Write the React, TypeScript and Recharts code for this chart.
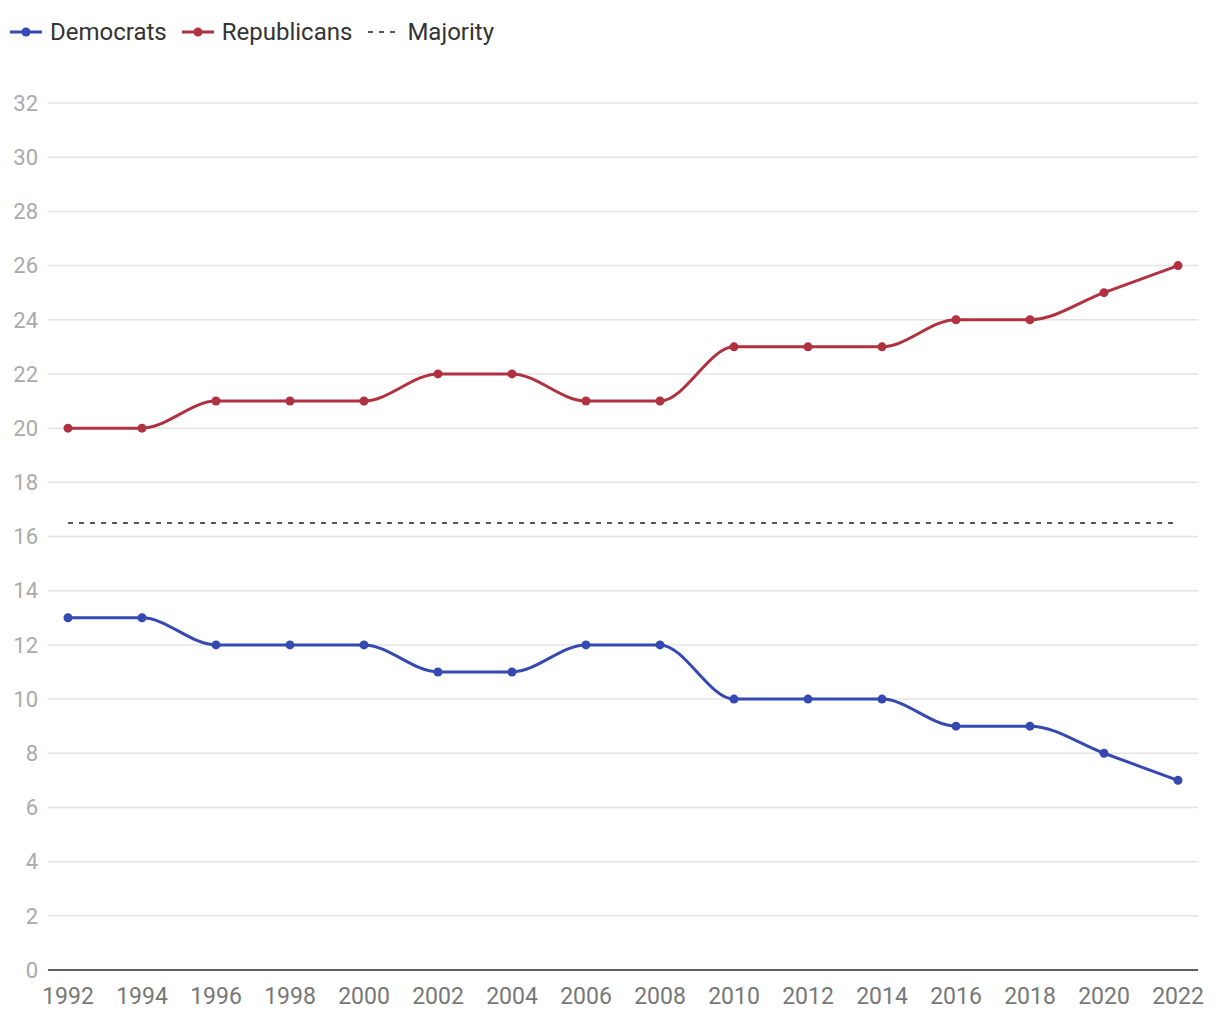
import React from 'react';
import { LineChart, Line, XAxis, YAxis, CartesianGrid } from 'recharts';

const YEARS = ['1992', '1994', '1996', '1998', '2000', '2002', '2004', '2006', '2008', '2010', '2012', '2014', '2016', '2018', '2020', '2022'];
const DEMOCRATS = [13, 13, 12, 12, 12, 11, 11, 12, 12, 10, 10, 10, 9, 9, 8, 7];
const REPUBLICANS = [20, 20, 21, 21, 21, 22, 22, 21, 21, 23, 23, 23, 24, 24, 25, 26];
const MAJORITY = 16.5;
const Y_TICKS = [0, 2, 4, 6, 8, 10, 12, 14, 16, 18, 20, 22, 24, 26, 28, 30, 32];

const BLUE = '#3549b1';
const RED = '#b0313f';
const FONT = 'Roboto, "Noto Sans", sans-serif';

const data = YEARS.map((year, i) => ({
  year,
  dem: DEMOCRATS[i],
  rep: REPUBLICANS[i],
  majority: MAJORITY,
}));

const LegendItem = ({ color, dashed, label }: { color: string; dashed?: boolean; label: string }) => (
  <div style={{ display: 'flex', alignItems: 'center', marginRight: 14 }}>
    <svg width={34} height={12} style={{ marginRight: 7 }}>
      {dashed ? (
        <line x1={2} y1={6} x2={32} y2={6} stroke="#222" strokeWidth={1.5} strokeDasharray="5 6" />
      ) : (
        <>
          <line x1={1} y1={6} x2={33} y2={6} stroke={color} strokeWidth={3} />
          <circle cx={17} cy={6} r={4.5} fill={color} />
        </>
      )}
    </svg>
    <span>{label}</span>
  </div>
);

export default function App() {
  return (
    <div style={{ position: 'absolute', left: 0, top: 0, width: 1220, height: 1020, background: '#fff', fontFamily: FONT }}>
      <div style={{ position: 'absolute', left: 9, top: 17, display: 'flex', fontSize: 24, color: '#333', lineHeight: '30px' }}>
        <LegendItem color={BLUE} label="Democrats" />
        <LegendItem color={RED} label="Republicans" />
        <LegendItem color="#222" dashed label="Majority" />
      </div>
      <LineChart width={1220} height={1020} data={data} margin={{ top: 103, right: 22, bottom: 20, left: 0 }}>
        <CartesianGrid vertical={false} stroke="#e4e4e4" strokeWidth={1.5} />
        <XAxis
          dataKey="year"
          padding={{ left: 20, right: 20 }}
          tickLine={false}
          axisLine={{ stroke: '#333', strokeWidth: 1.5 }}
          tickSize={0}
          tickMargin={18}
          height={30}
          interval={0}
          tick={{ fill: '#777', fontSize: 23, fontFamily: FONT }}
        />
        <YAxis
          width={48}
          domain={[0, 32]}
          ticks={Y_TICKS}
          interval={0}
          tickLine={false}
          axisLine={false}
          tickSize={0}
          tickMargin={10}
          tick={{ fill: '#aaa', fontSize: 22, fontFamily: FONT }}
        />
        <Line
          dataKey="majority"
          stroke="#222"
          strokeWidth={1.5}
          strokeDasharray="5 6"
          dot={false}
          activeDot={false}
          isAnimationActive={false}
        />
        <Line
          type="monotone"
          dataKey="rep"
          stroke={RED}
          strokeWidth={3}
          dot={{ r: 4.5, fill: RED, stroke: RED, strokeWidth: 0 }}
          isAnimationActive={false}
        />
        <Line
          type="monotone"
          dataKey="dem"
          stroke={BLUE}
          strokeWidth={3}
          dot={{ r: 4.5, fill: BLUE, stroke: BLUE, strokeWidth: 0 }}
          isAnimationActive={false}
        />
      </LineChart>
    </div>
  );
}
